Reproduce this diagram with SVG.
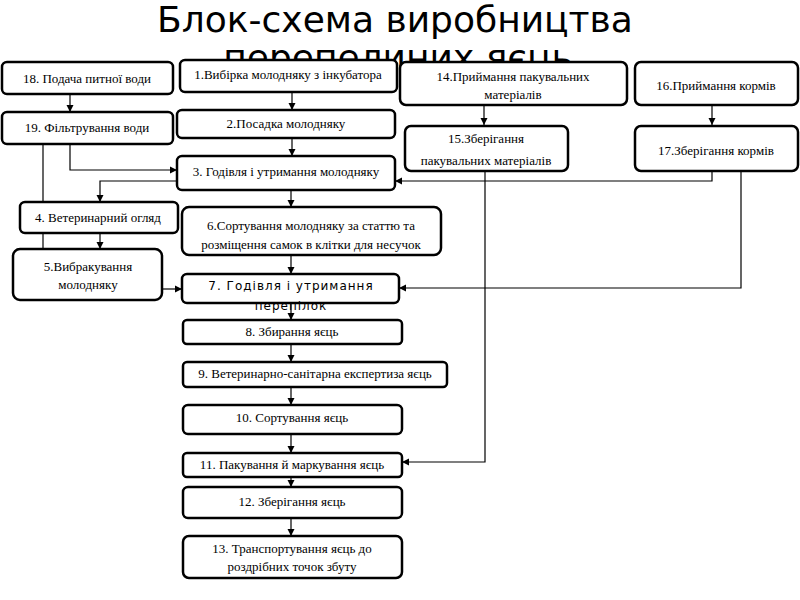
<svg xmlns="http://www.w3.org/2000/svg" width="800" height="600" viewBox="0 0 800 600">
<style>
.title{font-family:"DejaVu Sans","Noto Sans",sans-serif;font-size:36px;fill:#000;text-anchor:middle}
.box{fill:#fff;stroke:#000;stroke-width:2.5}
.t{font-family:"Liberation Serif","DejaVu Serif",serif;font-size:13px;fill:#000;text-anchor:middle}
.s{font-family:"DejaVu Sans","Noto Sans",sans-serif;font-size:12px;letter-spacing:1px;fill:#000;text-anchor:middle}
.c{fill:none;stroke:#000;stroke-width:1.2}
</style>
<defs>
<marker id="ah" markerUnits="userSpaceOnUse" markerWidth="8" markerHeight="8" refX="7" refY="4" orient="auto">
<path d="M0,0.5 L7,4 L0,7.5 Z" fill="#000"/>
</marker>
</defs>
<rect width="800" height="600" fill="#fff"/>
<g id="title">
<text class="title" x="395" y="32">Блок-схема виробництва</text>
<text class="title" x="398" y="70">перепелиних яєць</text>
</g>
<g id="connectors">
<line class="c" x1="70" y1="94" x2="70" y2="112" marker-end="url(#ah)"/>
<line class="c" x1="292" y1="92" x2="292" y2="110" marker-end="url(#ah)"/>
<line class="c" x1="292" y1="138" x2="292" y2="156" marker-end="url(#ah)"/>
<polyline class="c" points="70,144 70,170 177,170" marker-end="url(#ah)"/>
<line class="c" x1="43" y1="144" x2="43" y2="250"/>
<polyline class="c" points="177,181 100,181 100,202" marker-end="url(#ah)"/>
<line class="c" x1="100" y1="233" x2="100" y2="249" marker-end="url(#ah)"/>
<line class="c" x1="291" y1="190" x2="291" y2="207" marker-end="url(#ah)"/>
<line class="c" x1="291" y1="255" x2="291" y2="274" marker-end="url(#ah)"/>
<line class="c" x1="162" y1="289" x2="182" y2="289" marker-end="url(#ah)"/>
<line class="c" x1="291" y1="303" x2="291" y2="320" marker-end="url(#ah)"/>
<line class="c" x1="291" y1="344" x2="291" y2="362" marker-end="url(#ah)"/>
<line class="c" x1="291" y1="387" x2="291" y2="405" marker-end="url(#ah)"/>
<line class="c" x1="291" y1="434" x2="291" y2="453" marker-end="url(#ah)"/>
<line class="c" x1="291" y1="477" x2="291" y2="487" marker-end="url(#ah)"/>
<line class="c" x1="291" y1="518" x2="291" y2="536" marker-end="url(#ah)"/>
<line class="c" x1="484" y1="105" x2="484" y2="125" marker-end="url(#ah)"/>
<line class="c" x1="712" y1="105" x2="712" y2="125" marker-end="url(#ah)"/>
<polyline class="c" points="712,171 712,181 395,181" marker-end="url(#ah)"/>
<polyline class="c" points="741,171 741,288 399,288" marker-end="url(#ah)"/>
<polyline class="c" points="485,171 485,462 402,462" marker-end="url(#ah)"/>
</g>
<g id="n18"><rect class="box" x="2" y="62" width="171" height="32" rx="5"/><text class="t" x="87" y="83">18. Подача питної води</text></g>
<g id="n1"><rect class="box" x="180" y="60" width="217" height="32" rx="5"/><text class="t" x="288" y="79">1.Вибірка молодняку з інкубатора</text></g>
<g id="n19"><rect class="box" x="2" y="112" width="171" height="32" rx="5"/><text class="t" x="87" y="132">19. Фільтрування води</text></g>
<g id="n2"><rect class="box" x="177" y="110" width="218" height="28" rx="5"/><text class="t" x="286" y="128">2.Посадка молодняку</text></g>
<g id="n3"><rect class="box" x="177" y="156" width="218" height="34" rx="5"/><text class="t" x="286" y="176">3. Годівля і утримання молодняку</text></g>
<g id="n14"><rect class="box" x="400" y="62" width="227" height="43" rx="6"/><text class="t" x="513" y="81">14.Приймання пакувальних</text><text class="t" x="513" y="99">матеріалів</text></g>
<g id="n16"><rect class="box" x="635" y="62" width="163" height="43" rx="6"/><text class="t" x="716" y="90">16.Приймання кормів</text></g>
<g id="n15"><rect class="box" x="405" y="126" width="163" height="45" rx="6"/><text class="t" x="486" y="143">15.Зберігання</text><text class="t" x="486" y="165">пакувальних матеріалів</text></g>
<g id="n17"><rect class="box" x="635" y="126" width="163" height="45" rx="6"/><text class="t" x="716" y="155">17.Зберігання кормів</text></g>
<g id="n4"><rect class="box" x="20" y="202" width="158" height="31" rx="5"/><text class="t" x="98" y="222">4. Ветеринарний огляд</text></g>
<g id="n5"><rect class="box" x="13" y="249" width="149" height="51" rx="7"/><text class="t" x="88" y="271">5.Вибракування</text><text class="t" x="88" y="289">молодняку</text></g>
<g id="n6"><rect class="box" x="182" y="207" width="259" height="48" rx="7"/><text class="t" x="311" y="230">6.Сортування молодняку за статтю та</text><text class="t" x="311" y="249">розміщення самок в клітки для несучок</text></g>
<g id="n7"><rect class="box" x="182" y="274" width="217" height="29" rx="5"/><text class="s" x="291" y="290">7. Годівля і утримання</text><text class="s" x="291" y="310">перепілок</text></g>
<g id="n8"><rect class="box" x="183" y="320" width="219" height="24" rx="4"/><text class="t" x="292" y="336">8. Збирання яєць</text></g>
<g id="n9"><rect class="box" x="183" y="362" width="264" height="25" rx="4"/><text class="t" x="315" y="378">9. Ветеринарно-санітарна експертиза яєць</text></g>
<g id="n10"><rect class="box" x="183" y="405" width="219" height="29" rx="5"/><text class="t" x="292" y="422">10. Сортування яєць</text></g>
<g id="n11"><rect class="box" x="183" y="453" width="219" height="24" rx="4"/><text class="t" x="292" y="469">11. Пакування й маркування яєць</text></g>
<g id="n12"><rect class="box" x="183" y="487" width="219" height="31" rx="5"/><text class="t" x="292" y="506">12. Зберігання яєць</text></g>
<g id="n13"><rect class="box" x="183" y="536" width="219" height="42" rx="6"/><text class="t" x="292" y="553">13. Транспортування яєць до</text><text class="t" x="292" y="571">роздрібних точок збуту</text></g>
</svg>
